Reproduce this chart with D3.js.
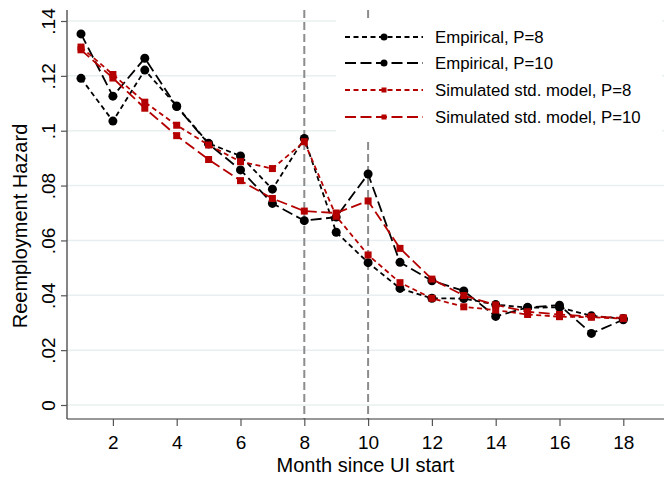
<!DOCTYPE html>
<html><head><meta charset="utf-8">
<script src="https://cdn.jsdelivr.net/npm/d3@7"></script>
<style>body{margin:0;background:#fff}svg{display:block;font-family:"Liberation Sans",Arial,sans-serif}</style>
</head><body><svg id="c" width="664" height="477"></svg>
<script>
const months = [1,2,3,4,5,6,7,8,9,10,11,12,13,14,15,16,17,18];
const empP8  = [0.1191,0.1035,0.1221,0.1090,0.0954,0.0908,0.0787,0.0972,0.0630,0.0519,0.0425,0.0389,0.0388,0.0366,0.0355,0.0356,0.0325,0.0315];
const empP10 = [0.1353,0.1126,0.1264,0.1088,0.0952,0.0857,0.0735,0.0672,0.0685,0.0842,0.0520,0.0453,0.0416,0.0323,0.0356,0.0364,0.0261,0.0311];
const simP8  = [0.1305,0.1205,0.1104,0.1020,0.0948,0.0887,0.0862,0.0960,0.0688,0.0547,0.0446,0.0389,0.0358,0.0346,0.0330,0.0322,0.0320,0.0315];
const simP10 = [0.1295,0.1192,0.1082,0.0982,0.0895,0.0818,0.0753,0.0707,0.0700,0.0744,0.0571,0.0459,0.0399,0.0365,0.0340,0.0330,0.0322,0.0318];
const xTicks = [2,4,6,8,10,12,14,16,18];
const yTicks = [0,0.02,0.04,0.06,0.08,0.10,0.12,0.14];
const yTickLabels = ["0",".02",".04",".06",".08",".1",".12",".14"];
const refLines = [8,10];
const seriesNames = ["Empirical, P=8","Empirical, P=10","Simulated std. model, P=8","Simulated std. model, P=10"];
const xTitle = "Month since UI start";
const yTitle = "Reemployment Hazard";

const RED = "#b50000";
const series = [
  {name:seriesNames[0], vals:empP8,  color:"#000", dash:"5,3.5",  marker:"circle"},
  {name:seriesNames[1], vals:empP10, color:"#000", dash:"11,4.5", marker:"circle"},
  {name:seriesNames[2], vals:simP8,  color:RED,    dash:"5,3.5",  marker:"square"},
  {name:seriesNames[3], vals:simP10, color:RED,    dash:"11,4.5", marker:"square"}
];

const svg = d3.select("#c");
const L = 67, R = 664, T = 10, B = 419;
const x = d3.scaleLinear().domain([1 - 14/31.9, 1 + (R-81)/31.9]).range([L, R]);
const y = d3.scaleLinear().domain([0, 0.14]).range([405, 21]);

// grid
svg.append("g").selectAll("line").data(yTicks).join("line")
  .attr("x1", L).attr("x2", R).attr("y1", d=>y(d)).attr("y2", d=>y(d))
  .attr("stroke", "#e8eff1").attr("stroke-width", 1.5);

// reference lines
svg.append("g").selectAll("line").data(refLines).join("line")
  .attr("x1", d=>x(d)).attr("x2", d=>x(d)).attr("y1", T).attr("y2", B)
  .attr("stroke", "#8c8c8c").attr("stroke-width", 2).attr("stroke-dasharray", "8,4");

// axes
const yAxis = d3.axisLeft(y).tickValues(yTicks).tickFormat((d,i)=>yTickLabels[i]).tickSize(6);
const gy = svg.append("g").attr("transform", `translate(${L},0)`).call(yAxis);
gy.select(".domain").attr("d", `M0,${T}V${B}`).attr("stroke", "#333").attr("stroke-width", 1.2);
gy.selectAll(".tick line").attr("stroke", "#555").attr("stroke-width", 1.2);
gy.selectAll(".tick text").attr("font-size", 19).attr("fill", "#000")
  .attr("x", null).attr("y", null).attr("dy", "0")
  .attr("transform", "translate(-12,0) rotate(-90)").attr("text-anchor", "middle");

const xAxis = d3.axisBottom(x).tickValues(xTicks).tickSize(7).tickPadding(10);
const gx = svg.append("g").attr("transform", `translate(0,${B})`).call(xAxis);
gx.select(".domain").attr("d", `M${L},0H${R}`).attr("stroke", "#333").attr("stroke-width", 1.2);
gx.selectAll(".tick line").attr("stroke", "#555").attr("stroke-width", 1.2);
gx.selectAll(".tick text").attr("font-size", 19).attr("fill", "#000");

// titles
svg.append("text").attr("x", (L+R)/2).attr("y", 472).attr("text-anchor", "middle")
  .attr("font-size", 20).text(xTitle);
svg.append("text").attr("transform", `translate(27,226) rotate(-90)`).attr("text-anchor", "middle")
  .attr("font-size", 20).text(yTitle);

// series
const line = d3.line().x((d,i)=>x(months[i])).y(d=>y(d));
series.forEach(s => {
  const g = svg.append("g");
  g.append("path").attr("d", line(s.vals)).attr("fill", "none")
    .attr("stroke", s.color).attr("stroke-width", 1.8).attr("stroke-dasharray", s.dash);
  if (s.marker === "circle") {
    g.selectAll("circle").data(s.vals).join("circle")
      .attr("cx", (d,i)=>x(months[i])).attr("cy", d=>y(d)).attr("r", 4.5).attr("fill", s.color);
  } else {
    g.selectAll("rect").data(s.vals).join("rect")
      .attr("x", (d,i)=>x(months[i])-3.5).attr("y", d=>y(d)-3.5).attr("width", 7).attr("height", 7).attr("fill", s.color);
  }
});

// legend
const lg = svg.append("g");
lg.append("rect").attr("x", 336).attr("y", 20).attr("width", 326).attr("height", 121).attr("fill", "#fff");
const rowY = [37, 63, 90, 117];
series.forEach((s,i) => {
  const yy = rowY[i];
  lg.append("line").attr("x1", 345).attr("x2", 423).attr("y1", yy).attr("y2", yy)
    .attr("stroke", s.color).attr("stroke-width", 1.8).attr("stroke-dasharray", s.dash);
  if (s.marker === "circle") lg.append("circle").attr("cx", 384).attr("cy", yy).attr("r", 3.5).attr("fill", s.color);
  else lg.append("rect").attr("x", 381.5).attr("y", yy-2.5).attr("width", 5).attr("height", 5).attr("fill", s.color);
  lg.append("text").attr("x", 435).attr("y", yy).attr("dy", "0.35em").attr("font-size", 16.8).text(s.name);
});
</script></body></html>
